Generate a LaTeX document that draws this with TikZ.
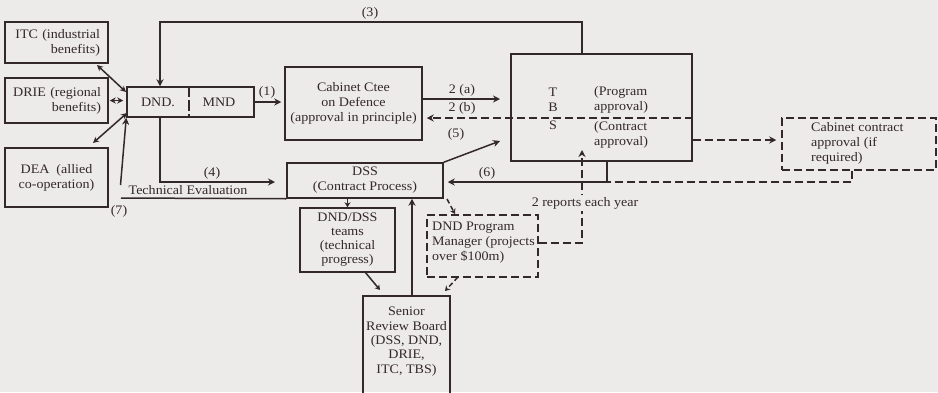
\documentclass[tikz,border=0pt]{standalone}
\usepackage{fontspec}
\setmainfont{Liberation Serif}[FakeStretch=1.08]
\usetikzlibrary{arrows.meta,calc}
\definecolor{bg}{HTML}{EDEAEA}
\definecolor{ink}{HTML}{33282A}
\begin{document}
\begin{tikzpicture}[x=1pt,y=-1pt,
  every node/.style={font=\fontsize{13}{15}\selectfont, text=ink, inner sep=0pt},
  box/.style={draw=ink, line width=1.5pt, inner sep=0pt},
  dbox/.style={box, dash pattern=on 8pt off 4pt},
  ln/.style={draw=ink, line width=1.5pt},
  arr/.style={ln, -{Stealth[length=7pt,width=7pt]}},
  sarr/.style={ln, -{Stealth[length=5pt,width=6pt]}},
  darr/.style={arr, dash pattern=on 8pt off 4pt},
  dsarr/.style={sarr, dash pattern=on 5pt off 3pt},
  dln/.style={ln, dash pattern=on 8pt off 4pt},
  dbl/.style={ln, {Stealth[length=6pt,width=6pt]}-{Stealth[length=6pt,width=6pt]}},
]
\fill[bg] (0,0) rectangle (938,392);
\useasboundingbox (0,0) rectangle (938,392);
\clip (0,0) rectangle (938,392);

% boxes
\node[box, minimum width=103pt, minimum height=41pt, text width=87pt, align=right] (itc) at (56.5,42.5) {ITC (industrial\\benefits)};
\node[box, minimum width=103pt, minimum height=45pt, text width=89pt, align=right] (drie) at (56.5,100.5) {DRIE (regional\\benefits)};
\node[box, minimum width=103pt, minimum height=59pt, align=center] (dea) at (56.5,177.5) {DEA\ \ (allied\\co-operation)};
\node[box, minimum width=127pt, minimum height=30pt] (dnd) at (190.5,102) {};
\node (dndt) at (158,102) {DND.};
\node (mndt) at (219,102) {MND};
\draw[ln, dash pattern=on 11pt off 3pt] (dnd.north -| 189,0) -- (dnd.south -| 189,0);
\node[box, minimum width=137pt, minimum height=73pt, align=center] (cab) at (353.5,103.5) {Cabinet Ctee\\on Defence\\(approval in principle)};
\node[box, minimum width=181pt, minimum height=107pt] (tbs) at (601.5,107.5) {};
\node (tT) at (553,92) {T};
\node (tB) at (553,107) {B};
\node (tS) at (553,125) {S};
\node[align=left, anchor=west] (prog) at (594,100) {(Program\\approval)};
\node[align=left, anchor=west] (contr) at (594,134.5) {(Contract\\approval)};
\node[dbox, minimum width=154pt, minimum height=52pt] (cc) at (859,144) {};
\node[align=left, anchor=west] (cct) at (811,143) {Cabinet contract\\approval (if\\required)};
\node[box, minimum width=156pt, minimum height=35pt, align=center] (dss) at (365,180.5) {DSS\\(Contract Process)};
\node[box, minimum width=95pt, minimum height=64pt, align=center, font=\fontsize{13}{14}\selectfont] (teams) at (347.5,240) {DND/DSS\\teams\\(technical\\progress)};
\node[dbox, minimum width=111pt, minimum height=62pt] (pm) at (482.5,246) {};
\node[align=left, anchor=west] (pmt) at (432,243) {DND Program\\Manager (projects\\over \$100m)};
\node[box, minimum width=87pt, minimum height=110pt, anchor=north] (srb) at (406.5,295) {};
\node[align=center, font=\fontsize{13}{14.3}\selectfont] (srbt) at (406.5,341.5) {Senior\\Review Board\\(DSS, DND,\\DRIE,\\ITC, TBS)};

% (1)
\draw[arr, shorten >=3pt] (dnd.east) -- (cab.west |- dnd.east);
\node (l1) at (267,92) {(1)};
% (3)
\coordinate (c3a) at (582,22);
\coordinate (c3b) at (160,22);
\draw[arr] (tbs.north -| c3a) -- (c3a) -- (c3b) -- (dnd.north -| c3b);
\node (l3) at (370,13) {(3)};
% 2(a), 2(b)
\coordinate (c2a) at (500,99);
\draw[arr] (cab.east |- c2a) -- (c2a);
\node (l2a) at (462,90) {2 (a)};
\coordinate (c2b) at (692,118);
\draw[darr, shorten >=4pt] (tbs.east |- c2b) -- (cab.east |- c2b);
\node (l2b) at (462,108) {2 (b)};
% (4)
\coordinate (c4) at (275,182);
\draw[arr] (dnd.south -| c3b) |- (c4);
\node (l4) at (212,173) {(4)};
% (5)
\coordinate (c5) at (500,141);
\draw[arr] (dss.north east) -- (c5);
\node (l5) at (456,134) {(5)};
% (6)
\coordinate (c6) at (607,182);
\draw[arr, shorten >=4pt] (tbs.south -| c6) -- (c6) -- (dss.east |- c6);
\node (l6) at (487,173) {(6)};
\coordinate (c6b) at (852,182);
\draw[dln] (cc.south -| c6b) -- (c6b) -- (c6);
% TBS -> cabinet contract
\coordinate (c8) at (700,140);
\draw[darr, shorten >=5pt] (c8 -| tbs.east) -- (c8 -| cc.west);
% 2 reports each year
\coordinate (r1) at (582,243);
\coordinate (r2) at (582,150);
\draw[darr] (pm.east |- r1) -- (r1) -- (r2);
\node[fill=bg, inner sep=2pt] (rep) at (585,203) {2 reports each year};
% Technical evaluation (7)
\coordinate (c7) at (121,198);
\draw[ln] (c7) -- (dss.south west);
\coordinate (c7b) at (120.5,185);
\draw[arr] (c7b) -- (dnd.south west);
\node (te) at (188,190) {Technical Evaluation};
\node (l7) at (119,211) {(7)};
% links to DND
\coordinate (i1) at (97,65);
\coordinate (i2) at (126,92);
\draw[dbl] (i1) -- (i2);
\draw[dbl, shorten >=3pt, shorten <=1pt] (drie.east) -- (dnd.west |- drie.east);
\coordinate (e1) at (93,143);
\coordinate (e2) at (127,113);
\draw[dbl] (e1) -- (e2);
% lower part
\draw[sarr] (teams.north |- dss.south) -- (teams.north);
\coordinate (t1) at (365,272);
\coordinate (t2) at (380,290);
\draw[sarr] (t1) -- (t2);
\coordinate (s1) at (412,0);
\draw[arr] (srb.north -| s1) -- (dss.south -| s1);
\coordinate (p1) at (447,199);
\coordinate (p2) at (455,214);
\draw[dsarr] (p1) -- (p2);
\coordinate (p3) at (458,277);
\coordinate (p4) at (445,291);
\draw[dsarr] (p3) -- (p4);
\end{tikzpicture}
\end{document}
